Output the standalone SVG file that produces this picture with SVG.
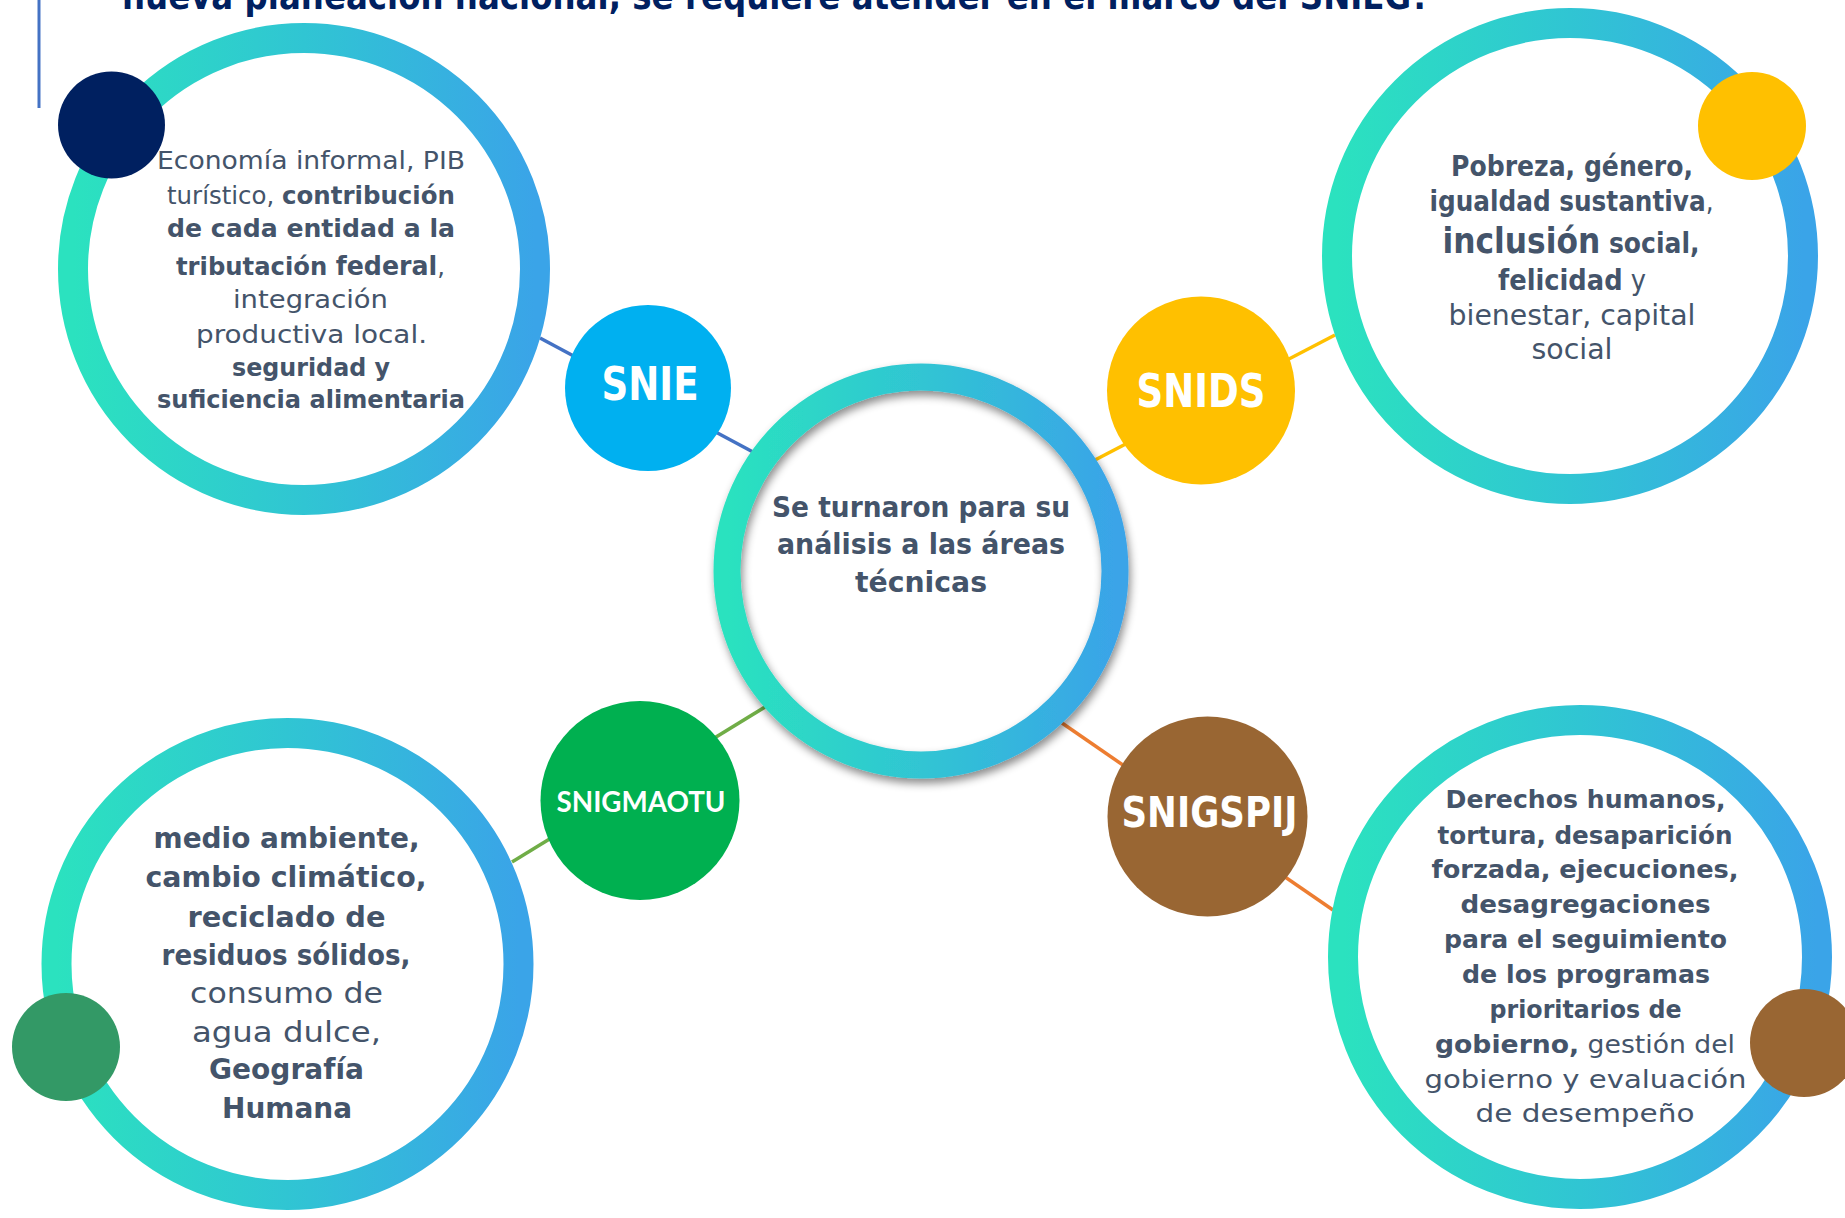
<svg xmlns="http://www.w3.org/2000/svg" width="1845" height="1218" viewBox="0 0 1845 1218">
<defs>
<linearGradient id="ringGrad" x1="0" y1="0" x2="1" y2="0">
<stop offset="0" stop-color="#2BE2BF"/>
<stop offset="0.5" stop-color="#30C5D3"/>
<stop offset="1" stop-color="#3AA4E8"/>
</linearGradient>
<filter id="shadow" x="-20%" y="-20%" width="140%" height="140%">
<feDropShadow dx="2" dy="5" stdDeviation="4" flood-color="#000" flood-opacity="0.45"/>
</filter>
</defs>
<style>
.ring{fill:none;stroke:url(#ringGrad);stroke-width:30}
.body{font-family:"DejaVu Sans","Liberation Sans",sans-serif;fill:#44546A;text-anchor:middle}
.b{font-weight:bold}
.r{font-weight:normal}
.lbl{font-family:"DejaVu Sans","Liberation Sans",sans-serif;font-weight:bold;fill:#FFFFFF;text-anchor:middle}
.conn{stroke-width:3.5;fill:none}
</style>
<rect width="1845" height="1218" fill="#FFFFFF"/>
<line x1="39" y1="0" x2="39" y2="108" stroke="#4472C4" stroke-width="3"/>
<text x="122" y="9" font-family="DejaVu Sans, Liberation Sans, sans-serif" font-weight="bold" font-size="38" fill="#002060" textLength="1308" lengthAdjust="spacingAndGlyphs">nueva planeación nacional, se requiere atender en el marco del SNIEG?</text>

<g id="connectors">
<line class="conn" x1="540" y1="338" x2="753" y2="452" stroke="#4472C4"/>
<line class="conn" x1="1095" y1="460" x2="1335" y2="335" stroke="#FFC000"/>
<line class="conn" x1="765" y1="707" x2="512" y2="862" stroke="#70AD47"/>
<line class="conn" x1="1062" y1="723" x2="1333" y2="910" stroke="#ED7D31"/>
</g>

<g id="center">
<circle cx="921" cy="571" r="194" fill="none" stroke="url(#ringGrad)" stroke-width="27" filter="url(#shadow)"/>
<text class="body b" font-size="29" x="921" y="517" textLength="298" lengthAdjust="spacingAndGlyphs">Se turnaron para su</text>
<text class="body b" font-size="29" x="921" y="554" textLength="288" lengthAdjust="spacingAndGlyphs">análisis a las áreas</text>
<text class="body b" font-size="29" x="921" y="592" textLength="132" lengthAdjust="spacingAndGlyphs">técnicas</text>
</g>

<g id="economia">
<circle class="ring" cx="304" cy="269" r="231"/>
<circle cx="111.5" cy="125" r="53.5" fill="#002060"/>
<g class="body" font-size="25">
<text x="311" y="169" textLength="308" lengthAdjust="spacingAndGlyphs" class="r">Economía informal, PIB</text>
<text x="311" y="204" textLength="288" lengthAdjust="spacingAndGlyphs"><tspan class="r">turístico, </tspan><tspan class="b">contribución</tspan></text>
<text x="311" y="237" textLength="288" lengthAdjust="spacingAndGlyphs" class="b">de cada entidad a la</text>
<text x="310.5" y="275" textLength="269" lengthAdjust="spacingAndGlyphs"><tspan class="b">tributación </tspan><tspan class="b" font-size="26">federal</tspan><tspan class="r">,</tspan></text>
<text x="310.5" y="308" textLength="155" lengthAdjust="spacingAndGlyphs" class="r">integración</text>
<text x="311.5" y="343" textLength="231" lengthAdjust="spacingAndGlyphs" class="r">productiva local.</text>
<text x="311" y="376" textLength="158" lengthAdjust="spacingAndGlyphs" class="b">seguridad y</text>
<text x="311" y="408" textLength="308" lengthAdjust="spacingAndGlyphs" class="b">suficiencia alimentaria</text>
</g>
</g>

<g id="snie">
<circle cx="648" cy="388" r="83" fill="#00B0F0"/>
<text class="lbl" x="650" y="400" font-size="46" textLength="97" lengthAdjust="spacingAndGlyphs">SNIE</text>
</g>

<g id="social">
<circle class="ring" cx="1570" cy="256" r="233"/>
<circle cx="1752" cy="126" r="54" fill="#FFC000"/>
<g class="body" font-size="28">
<text x="1572" y="176" textLength="242" lengthAdjust="spacingAndGlyphs" class="b">Pobreza, género,</text>
<text x="1571.5" y="211" textLength="284" lengthAdjust="spacingAndGlyphs"><tspan class="b">igualdad sustantiva</tspan><tspan class="r">,</tspan></text>
<text x="1571" y="253" textLength="257" lengthAdjust="spacingAndGlyphs"><tspan class="b" font-size="35">inclusión</tspan><tspan class="b"> social,</tspan></text>
<text x="1572" y="290" textLength="148" lengthAdjust="spacingAndGlyphs"><tspan class="b">felicidad</tspan><tspan class="r"> y</tspan></text>
<text x="1572" y="325" textLength="247" lengthAdjust="spacingAndGlyphs" class="r">bienestar, capital</text>
<text x="1572" y="359" textLength="81" lengthAdjust="spacingAndGlyphs" class="r">social</text>
</g>
</g>

<g id="snids">
<circle cx="1201" cy="390.5" r="94" fill="#FFC000"/>
<text class="lbl" x="1201" y="407" font-size="46" textLength="129" lengthAdjust="spacingAndGlyphs">SNIDS</text>
</g>

<g id="medioambiente">
<circle class="ring" cx="287.5" cy="964" r="231"/>
<circle cx="66" cy="1047" r="54" fill="#339966"/>
<g class="body" font-size="29">
<text x="286.5" y="848" textLength="266" lengthAdjust="spacingAndGlyphs" class="b">medio ambiente,</text>
<text x="286" y="887" textLength="281" lengthAdjust="spacingAndGlyphs" class="b">cambio climático,</text>
<text x="286.5" y="927" textLength="198" lengthAdjust="spacingAndGlyphs" class="b">reciclado de</text>
<text x="286" y="965" textLength="249" lengthAdjust="spacingAndGlyphs" class="b">residuos sólidos,</text>
<text x="286.5" y="1003" textLength="193" lengthAdjust="spacingAndGlyphs" class="r">consumo de</text>
<text x="286.5" y="1042" textLength="189" lengthAdjust="spacingAndGlyphs" class="r">agua dulce,</text>
<text x="286.5" y="1079" textLength="155" lengthAdjust="spacingAndGlyphs" class="b">Geografía</text>
<text x="287" y="1118" textLength="130" lengthAdjust="spacingAndGlyphs" class="b">Humana</text>
</g>
</g>

<g id="snigmaotu">
<circle cx="640" cy="800.5" r="99.5" fill="#00B050"/>
<text x="641" y="812" font-family="Lato, 'Open Sans', 'Liberation Sans', sans-serif" font-weight="bold" font-size="28" fill="#FFFFFF" text-anchor="middle" textLength="169" lengthAdjust="spacingAndGlyphs">SNIGMAOTU</text>
</g>

<g id="derechos">
<circle class="ring" cx="1580" cy="957" r="237"/>
<circle cx="1804" cy="1043" r="54" fill="#996633"/>
<g class="body" font-size="25">
<text x="1585.5" y="808" textLength="280" lengthAdjust="spacingAndGlyphs" class="b">Derechos humanos,</text>
<text x="1585" y="844" textLength="295" lengthAdjust="spacingAndGlyphs" class="b">tortura, desaparición</text>
<text x="1585" y="878" textLength="307" lengthAdjust="spacingAndGlyphs" class="b">forzada, ejecuciones,</text>
<text x="1585.5" y="913" textLength="250" lengthAdjust="spacingAndGlyphs" class="b">desagregaciones</text>
<text x="1585.5" y="948" textLength="283" lengthAdjust="spacingAndGlyphs" class="b">para el seguimiento</text>
<text x="1586" y="983" textLength="248" lengthAdjust="spacingAndGlyphs" class="b">de los programas</text>
<text x="1585.5" y="1018" textLength="192" lengthAdjust="spacingAndGlyphs" class="b">prioritarios de</text>
<text x="1585" y="1053" textLength="300" lengthAdjust="spacingAndGlyphs"><tspan class="b">gobierno,</tspan><tspan class="r"> gestión del</tspan></text>
<text x="1585.5" y="1088" textLength="322" lengthAdjust="spacingAndGlyphs" class="r">gobierno y evaluación</text>
<text x="1585" y="1122" textLength="219" lengthAdjust="spacingAndGlyphs" class="r">de desempeño</text>
</g>
</g>

<g id="snigspij">
<circle cx="1207.5" cy="816.5" r="100" fill="#996633"/>
<text class="lbl" x="1209.5" y="827" font-size="42" textLength="176" lengthAdjust="spacingAndGlyphs">SNIGSPIJ</text>
</g>
</svg>
